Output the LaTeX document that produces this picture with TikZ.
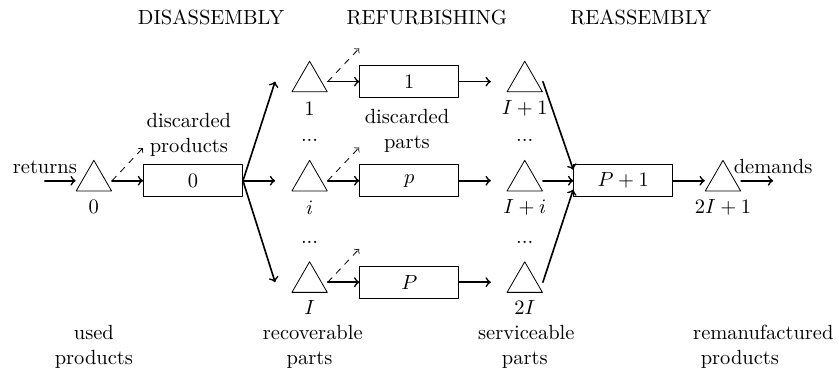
\documentclass[tikz,border=0pt]{standalone}
\usepackage{amsmath}
\usepackage{tikz}
\usetikzlibrary{shapes.geometric}

\begin{document}
\begin{tikzpicture}[line cap=round,line join=round,>=to,
  tri/.style={draw,regular polygon,regular polygon sides=3,minimum size=0.7cm,inner sep=0pt,outer sep=2.7pt},
  proc/.style={draw,minimum width=1.7cm,minimum height=0.55cm},
  flow/.style={->,thick},
  scrap/.style={->,dashed},
  txt/.style={text width=1.6cm,align=center,inner sep=0pt}]
\useasboundingbox (0,0) rectangle (14.39,-6.432);
% stage titles
\node (hdis) at (3.62,-0.30) {DISASSEMBLY};
\node (href) at (7.32,-0.30) {REFURBISHING};
\node (hrea) at (10.99,-0.30) {REASSEMBLY};
% stock points
\node[tri] (t0) at (1.61,-3.10) {};
\node[tri] (t1) at (5.31,-1.40) {};
\node[tri] (ti) at (5.31,-3.10) {};
\node[tri] (tI) at (5.31,-4.84) {};
\node[tri] (tI1) at (9.00,-1.40) {};
\node[tri] (tIi) at (9.00,-3.10) {};
\node[tri] (t2I) at (9.00,-4.84) {};
\node[tri] (t2I1) at (12.40,-3.10) {};
\node (l0) at (1.61,-3.55) {0};
\node (l1) at (5.31,-1.86) {$1$};
\node (li) at (5.31,-3.56) {$i$};
\node (lI) at (5.31,-5.28) {$I$};
\node (lI1) at (9.00,-1.86) {$I+1$};
\node (lIi) at (9.00,-3.56) {$I+i$};
\node (l2I) at (9.00,-5.28) {$2I$};
\node (l2I1) at (12.40,-3.55) {$2I+1$};
\node (dots1) at (5.31,-2.40) {...};
\node (dots2) at (5.31,-4.15) {...};
\node (dots3) at (9.00,-2.40) {...};
\node (dots4) at (9.00,-4.15) {...};
% operations
\node[proc] (b0) at (3.31,-3.10) {0};
\node[proc] (b1) at (7.02,-1.40) {1};
\node[proc] (bp) at (7.02,-3.10) {$p$};
\node[proc] (bP) at (7.02,-4.84) {$P$};
\node[proc] (bP1) at (10.69,-3.10) {$P+1$};
% texts
\coordinate (in) at (0.77,-3.10);
\coordinate (out) at (13.26,-3.10);
\node[above] (ret) at (in) {returns};
\node[above] (dem) at (out) {demands};
\node[txt] (dprod) at (3.24,-2.31) {discarded\\products};
\node[txt] (dpart) at (6.98,-2.24) {discarded\\parts};
\node[txt] (used) at (1.61,-5.95) {used\\products};
\node[txt] (recov) at (5.31,-5.95) {recoverable\\parts};
\node[txt] (serv) at (9.00,-5.95) {serviceable\\parts};
\node[txt] (reman) at (12.69,-5.95) {remanufactured\\products};
% flows
\draw[flow] (in) -- (t0.180);
\draw[flow] (t0.0) -- (b0.west);
\draw[flow] (b0.east) -- ([xshift=-0.28cm]t1.180);
\draw[flow] (b0.east) -- ([xshift=-0.28cm]ti.180);
\draw[flow] (b0.east) -- ([xshift=-0.28cm]tI.180);
\draw[flow] (t1.0) -- (b1.west);
\draw[flow] (ti.0) -- (bp.west);
\draw[flow] (tI.0) -- (bP.west);
\draw[flow] (b1.east) -- ([xshift=-0.27cm]tI1.180);
\draw[flow] (bp.east) -- ([xshift=-0.27cm]tIi.180);
\draw[flow] (bP.east) -- ([xshift=-0.27cm]t2I.180);
\draw[flow] (tI1.0) -- ([yshift=0.19cm]bP1.west);
\draw[flow] (tIi.0) -- (bP1.west);
\draw[flow] (t2I.0) -- ([yshift=-0.15cm]bP1.west);
\draw[flow] (bP1.east) -- (t2I1.180);
\draw[flow] (t2I1.0) -- (out);
% discarded
\coordinate (d0) at (2.45,-2.54);
\coordinate (d1) at (6.16,-0.83);
\coordinate (di) at (6.16,-2.53);
\coordinate (dI) at (6.16,-4.27);
\draw[scrap] (t0.0) -- (d0);
\draw[scrap] (t1.0) -- (d1);
\draw[scrap] (ti.0) -- (di);
\draw[scrap] (tI.0) -- (dI);
\end{tikzpicture}
\end{document}
